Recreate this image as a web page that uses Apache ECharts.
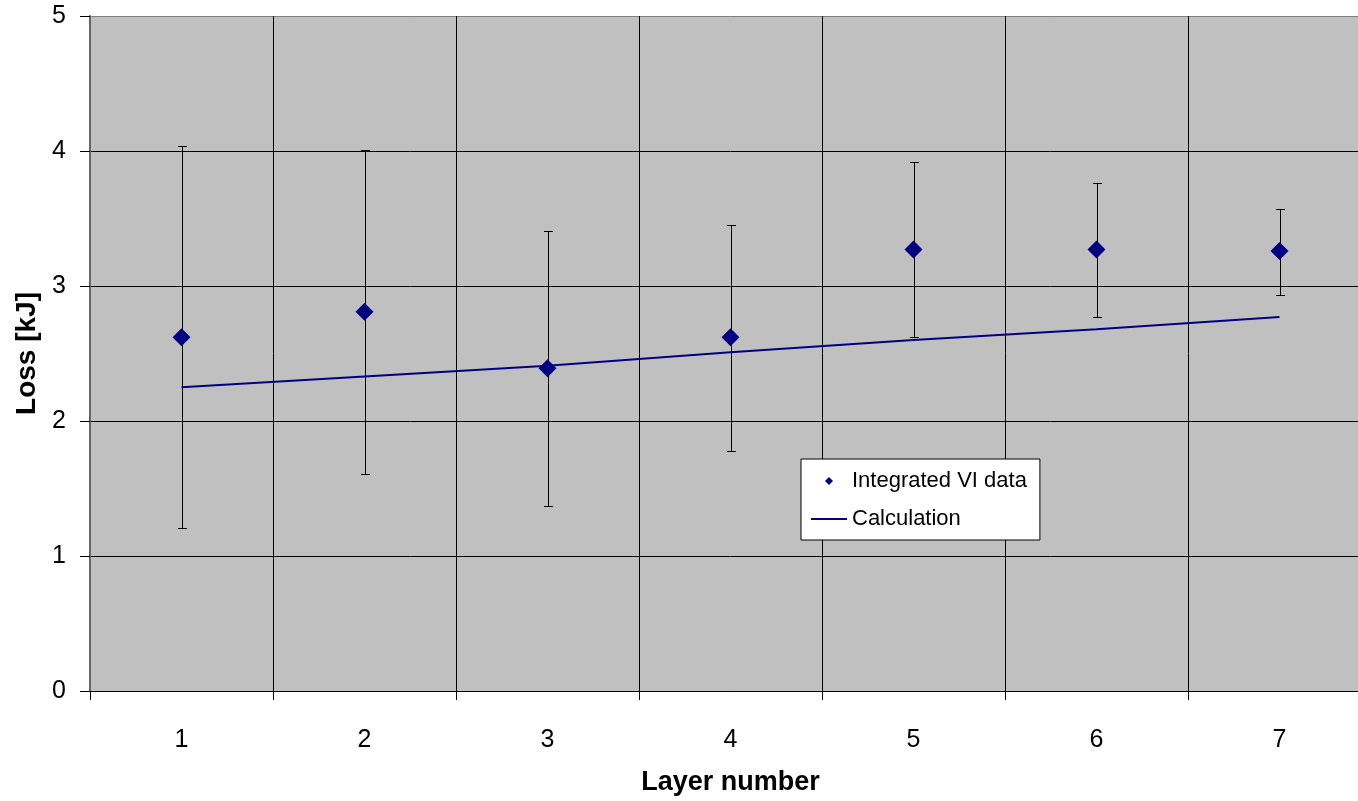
<!DOCTYPE html>
<html>
<head>
<meta charset="utf-8">
<script src="https://cdn.jsdelivr.net/npm/echarts@6/dist/echarts.min.js"></script>
<style>
html,body{margin:0;padding:0;background:#fff;overflow:hidden;}
#chart{width:1400px;height:801px;}
</style>
</head>
<body>
<div id="chart"></div>
<script>
var categories = ['1','2','3','4','5','6','7'];
var measured = [2.62, 2.81, 2.39, 2.62, 3.27, 3.27, 3.26];
var errLow = [1.21, 1.61, 1.37, 1.78, 2.62, 2.77, 2.93];
var errHigh = [4.04, 4.01, 3.41, 3.45, 3.92, 3.76, 3.57];
var calculation = [2.25, 2.33, 2.41, 2.51, 2.60, 2.68, 2.77];
var yTicks = [0, 1, 2, 3, 4, 5];

var errData = categories.map(function (c, i) { return [i, errLow[i], errHigh[i]]; });
var font = 'Liberation Sans, Arial, sans-serif';

var chart = echarts.init(document.getElementById('chart'));
chart.setOption({
  animation: false,
  backgroundColor: '#ffffff',
  grid: {
    left: 90, top: 16, width: 1281, height: 678,
    show: true, backgroundColor: '#c0c0c0', borderWidth: 0
  },
  legend: {
    left: 801, top: 459,
    orient: 'vertical',
    backgroundColor: '#ffffff',
    borderColor: '#000000',
    borderWidth: 1,
    borderRadius: 0,
    padding: [11, 13, 10, 10],
    itemGap: 16,
    itemWidth: 36,
    itemHeight: 8,
    textStyle: { fontSize: 22, fontFamily: font, color: '#000', lineHeight: 20 },
    data: [
      { name: 'Integrated VI data', icon: 'path://M0,0 M36,8 M14,4 L18,0 L22,4 L18,8 Z', itemStyle: { color: '#000080' } },
      { name: 'Calculation', icon: 'path://M0,0 M36,8 M0,3 L36,3 L36,5 L0,5 Z', itemStyle: { color: '#000080' } }
    ]
  },
  xAxis: {
    type: 'category',
    data: categories,
    boundaryGap: true,
    name: 'Layer number',
    nameLocation: 'middle',
    nameGap: 78,
    nameTextStyle: { fontSize: 27, fontWeight: 'bold', fontFamily: font, color: '#000' },
    axisLine: { show: true, lineStyle: { color: '#000', width: 1 } },
    axisTick: { show: true, length: 9, alignWithLabel: false, lineStyle: { color: '#000' } },
    axisLabel: { fontSize: 25, fontFamily: font, color: '#000', margin: 37 },
    splitLine: { show: true, interval: 0, lineStyle: { color: '#000', width: 1 } }
  },
  yAxis: {
    type: 'value',
    min: yTicks[0], max: yTicks[yTicks.length - 1], interval: 1,
    name: 'Loss [kJ]',
    nameLocation: 'middle',
    nameGap: 43,
    nameTextStyle: { fontSize: 28, fontWeight: 'bold', fontFamily: font, color: '#000' },
    axisLine: { show: true, lineStyle: { color: '#666', width: 2 } },
    axisTick: { show: true, length: 10, lineStyle: { color: '#000' } },
    axisLabel: { fontSize: 25, fontFamily: font, color: '#000', margin: 24, padding: [6, 0, 0, 0] },
    splitLine: { show: true, lineStyle: { color: ['#000', '#000', '#000', '#000', '#000', '#808080'], width: 1 } }
  },
  series: [
    {
      type: 'custom',
      name: 'errorbars',
      z: 2,
      data: errData,
      encode: { x: 0, y: [1, 2] },
      renderItem: function (params, api) {
        var idx = api.value(0);
        var lo = api.coord([idx, api.value(1)]);
        var hi = api.coord([idx, api.value(2)]);
        var x = Math.round(lo[0]) + 0.5;
        var yl = Math.round(lo[1]) + 0.5;
        var yh = Math.round(hi[1]) + 0.5;
        var style = { stroke: '#000', lineWidth: 1 };
        return {
          type: 'group',
          children: [
            { type: 'line', shape: { x1: x, y1: yh, x2: x, y2: yl }, style: style },
            { type: 'line', shape: { x1: x - 4.5, y1: yh, x2: x + 4.5, y2: yh }, style: style },
            { type: 'line', shape: { x1: x - 4.5, y1: yl, x2: x + 4.5, y2: yl }, style: style }
          ]
        };
      }
    },
    {
      type: 'line',
      name: 'Calculation',
      z: 3,
      data: calculation,
      symbol: 'none',
      showSymbol: false,
      lineStyle: { color: '#000080', width: 2 },
      itemStyle: { color: '#000080' }
    },
    {
      type: 'scatter',
      name: 'Integrated VI data',
      z: 4,
      data: measured,
      symbol: 'diamond',
      symbolSize: 18,
      itemStyle: { color: '#000080', opacity: 1 }
    }
  ]
});
</script>
</body>
</html>
